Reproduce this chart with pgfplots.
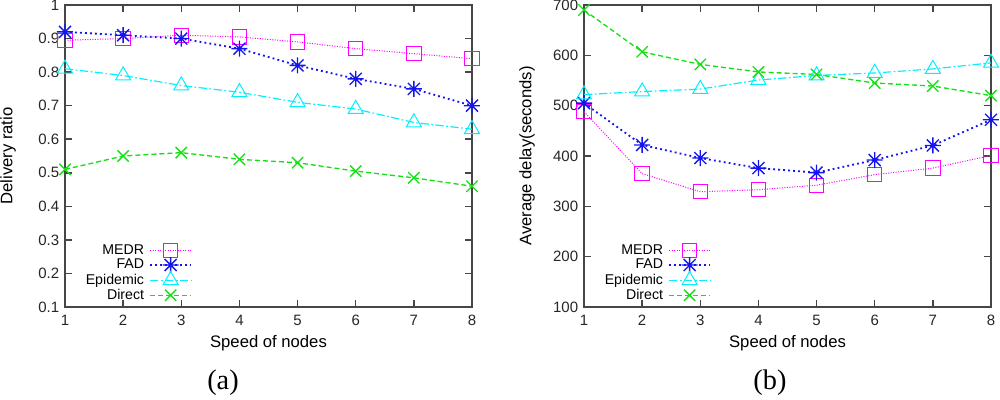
\documentclass[border=0pt]{standalone}
\usepackage{pgfplots}
\pgfplotsset{compat=1.18}
\usepackage{fontspec}
\setmainfont{Liberation Sans}
\newfontfamily\seriffont{Liberation Serif}
\definecolor{cMEDR}{RGB}{255,0,255}
\definecolor{cFAD}{RGB}{20,20,240}
\definecolor{cEPI}{RGB}{0,240,255}
\definecolor{cDIR}{RGB}{20,225,20}
\definecolor{axgray}{RGB}{70,70,70}
\pgfdeclareplotmark{gstar}{%
  \pgfpathmoveto{\pgfqpoint{-\pgfplotmarksize}{0pt}}\pgfpathlineto{\pgfqpoint{\pgfplotmarksize}{0pt}}%
  \pgfpathmoveto{\pgfqpoint{0pt}{-\pgfplotmarksize}}\pgfpathlineto{\pgfqpoint{0pt}{\pgfplotmarksize}}%
  \pgfpathmoveto{\pgfqpoint{-0.75\pgfplotmarksize}{-0.75\pgfplotmarksize}}\pgfpathlineto{\pgfqpoint{0.75\pgfplotmarksize}{0.75\pgfplotmarksize}}%
  \pgfpathmoveto{\pgfqpoint{-0.75\pgfplotmarksize}{0.75\pgfplotmarksize}}\pgfpathlineto{\pgfqpoint{0.75\pgfplotmarksize}{-0.75\pgfplotmarksize}}%
  \pgfusepathqstroke}
\pgfplotsset{
  gp/.style={
    scale only axis, width=244.2pt, height=181.2pt, anchor=south west,
    xmin=1, xmax=8, xtick={1,...,8},
    axis line style={axgray, line width=0.9pt},
    every tick/.style={axgray, line width=0.9pt},
    major tick length=4pt,
    tick label style={font=\fontsize{9}{10}\selectfont, text=black!85},
    xticklabel style={yshift=-1.5pt},
    label style={font=\fontsize{8.5}{9}\selectfont, text=black!85},
    /pgf/number format/assume math mode=true,
    xlabel={Speed of nodes},
    every axis x label/.style={at={(axis description cs:0.5,-0.119)}, anchor=center},
    every axis y label/.style={at={(axis description cs:-0.14,0.5)}, anchor=center, rotate=90},
    legend cell align=right,
    legend plot pos=right,
    legend style={draw=none, fill=none, inner sep=0pt, row sep=-1pt,
      font=\fontsize{8.5}{9}\selectfont, anchor=south east, at={(0.313,0.01)},
      nodes={inner ysep=1.2pt, inner xsep=3.1pt}},
    legend image code/.code={%
      \draw[#1,mark=none] (0pt,0pt) -- (24.6pt,0pt);
      \draw[#1,only marks] plot coordinates {(12.3pt,0pt)};},
  },
  sMEDR/.style={color=cMEDR, line width=0.6pt, dash pattern=on 0.6pt off 0.9pt, mark=square, mark size=4.3pt, mark options={solid, line width=0.6pt}},
  sFAD/.style={color=cFAD, line width=1.1pt, dash pattern=on 1.1pt off 1.9pt, mark=gstar, mark size=4.8pt, mark options={solid, line width=0.8pt}},
  sEPI/.style={color=cEPI, line width=0.7pt, dash pattern=on 5pt off 1.5pt on 1pt off 1.5pt, mark=triangle, mark size=5.2pt, mark options={solid, line width=0.6pt}},
  sDIR/.style={color=cDIR, line width=0.8pt, dash pattern=on 3pt off 1.8pt, mark=x, mark size=4.8pt, mark options={solid, line width=0.8pt}},
}
\begin{document}
\begin{tikzpicture}
\useasboundingbox (0,0) rectangle (600pt,239.4pt);
\begin{axis}[gp, at={(39pt,55.2pt)},
  ymin=0.1, ymax=1, ytick={0.1,0.2,...,1.0}, yticklabels={0.1,0.2,0.3,0.4,0.5,0.6,0.7,0.8,0.9,1},
  ylabel={Delivery ratio}]
\addplot[sMEDR] coordinates {(1,0.895) (2,0.90) (3,0.91) (4,0.905) (5,0.89) (6,0.87) (7,0.855) (8,0.84)};
\addlegendentry{MEDR}
\addplot[sFAD] coordinates {(1,0.92) (2,0.91) (3,0.90) (4,0.87) (5,0.82) (6,0.78) (7,0.75) (8,0.70)};
\addlegendentry{FAD}
\addplot[sEPI] coordinates {(1,0.81) (2,0.79) (3,0.76) (4,0.74) (5,0.71) (6,0.69) (7,0.65) (8,0.63)};
\addlegendentry{Epidemic}
\addplot[sDIR] coordinates {(1,0.51) (2,0.55) (3,0.56) (4,0.54) (5,0.53) (6,0.505) (7,0.485) (8,0.46)};
\addlegendentry{Direct}
\end{axis}
\begin{axis}[gp, at={(350.4pt,55.2pt)},
  ymin=100, ymax=700, ytick={100,200,...,700},
  ylabel={Average delay(seconds)}]
\addplot[sMEDR] coordinates {(1,488) (2,365) (3,329) (4,333) (5,342) (6,363) (7,376) (8,401)};
\addlegendentry{MEDR}
\addplot[sFAD] coordinates {(1,505) (2,422) (3,396) (4,376) (5,367) (6,392) (7,421) (8,472)};
\addlegendentry{FAD}
\addplot[sEPI] coordinates {(1,522) (2,528) (3,533) (4,551) (5,560) (6,565) (7,573) (8,585)};
\addlegendentry{Epidemic}
\addplot[sDIR] coordinates {(1,690) (2,607) (3,582) (4,567) (5,562) (6,545) (7,539) (8,520)};
\addlegendentry{Direct}
\end{axis}
\node[font=\seriffont\fontsize{17}{18}\selectfont] at (133.8pt,9.6pt) {(a)};
\node[font=\seriffont\fontsize{17}{18}\selectfont] at (462pt,9.6pt) {(b)};
\end{tikzpicture}
\end{document}
